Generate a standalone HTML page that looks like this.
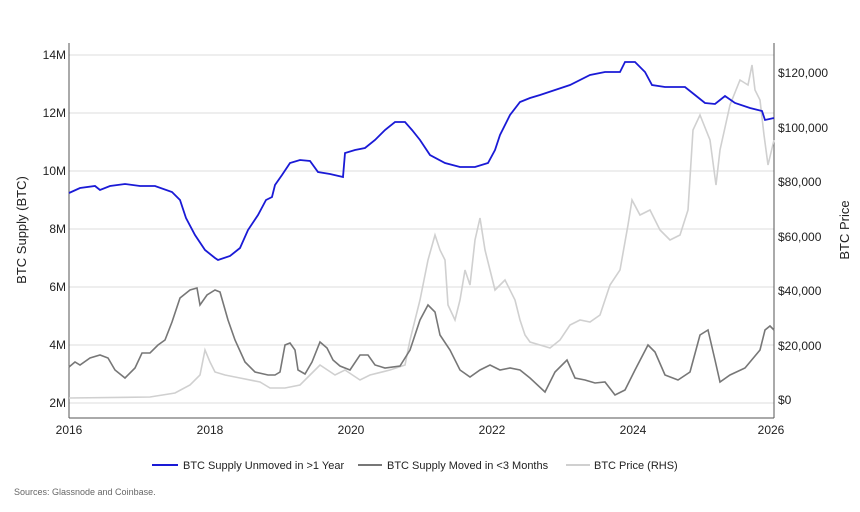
<!DOCTYPE html>
<html><head><style>
body{margin:0;background:#fff;font-family:"Liberation Sans",Arial,sans-serif;}
</style></head><body>
<svg width="860" height="507" xmlns="http://www.w3.org/2000/svg" font-family="Liberation Sans, Arial, sans-serif">
<g stroke="#e3e3e3" stroke-width="1.2">
<line x1="69" x2="774" y1="55" y2="55"/><line x1="69" x2="774" y1="113" y2="113"/>
<line x1="69" x2="774" y1="171" y2="171"/><line x1="69" x2="774" y1="229" y2="229"/>
<line x1="69" x2="774" y1="287" y2="287"/><line x1="69" x2="774" y1="345" y2="345"/>
<line x1="69" x2="774" y1="403" y2="403"/>
</g>
<g stroke="#555" stroke-width="1"><line x1="69" y1="43" x2="69" y2="418"/><line x1="774" y1="43" x2="774" y2="418"/><line x1="69" y1="418" x2="774" y2="418"/></g>
<g font-size="12" fill="#222" text-anchor="end">
<text x="66" y="59">14M</text><text x="66" y="117">12M</text><text x="66" y="175">10M</text><text x="66" y="233">8M</text><text x="66" y="291">6M</text><text x="66" y="349">4M</text><text x="66" y="407">2M</text></g>
<g font-size="12" fill="#222">
<text x="778" y="77">$120,000</text><text x="778" y="132">$100,000</text><text x="778" y="186">$80,000</text><text x="778" y="241">$60,000</text><text x="778" y="295">$40,000</text><text x="778" y="350">$20,000</text><text x="778" y="404">$0</text></g>
<g font-size="12" fill="#222" text-anchor="middle">
<text x="69" y="434">2016</text><text x="210" y="434">2018</text><text x="351" y="434">2020</text><text x="492" y="434">2022</text><text x="633" y="434">2024</text><text x="771" y="434">2026</text></g>
<text transform="translate(26,230) rotate(-90)" font-size="13" text-anchor="middle" fill="#222">BTC Supply (BTC)</text>
<text transform="translate(849,230) rotate(-90)" font-size="13" text-anchor="middle" fill="#222">BTC Price</text>
<polyline fill="none" stroke="#d0d0d0" stroke-width="1.6" points="69,398 150,397 175,393 190,385 200,375 205,350 210,362 215,372 225,375 240,378 260,382 270,388 285,388 300,385 310,375 320,365 335,375 345,370 360,380 370,375 390,370 405,365 410,340 420,300 428,260 435,235 440,250 445,260 448,305 455,320 460,300 465,270 470,285 475,240 480,218 485,250 490,270 495,290 505,280 515,300 520,320 525,335 530,342 540,345 550,348 560,340 570,325 580,320 590,322 600,315 610,285 620,270 628,225 632,200 640,215 650,210 660,230 670,240 680,235 688,210 693,130 700,115 710,140 716,185 720,150 730,105 740,80 748,85 752,65 755,90 760,100 764,135 768,165 774,140"/>
<polyline fill="none" stroke="#777" stroke-width="1.6" points="69,367 75,362 80,365 90,358 100,355 108,358 115,370 125,378 135,368 142,353 150,353 158,345 165,340 172,322 180,298 190,290 197,288 200,305 207,295 215,290 220,292 228,320 235,340 245,362 255,372 268,375 275,375 280,372 285,345 290,343 295,350 298,370 305,374 312,362 320,342 327,348 333,360 340,366 350,370 360,355 368,355 375,365 385,368 400,366 410,350 420,320 428,305 435,312 440,335 450,350 460,370 470,377 480,370 490,365 500,370 510,368 520,370 530,378 545,392 555,372 567,360 575,378 585,380 595,383 605,382 615,395 625,390 635,370 648,345 655,352 665,375 678,380 690,372 700,335 708,330 715,360 720,382 730,375 745,368 760,350 765,330 770,326 774,330"/>
<polyline fill="none" stroke="#1a1ad6" stroke-width="1.8" points="69,193 80,188 95,186 100,190 110,186 125,184 140,186 155,186 172,192 180,200 186,218 195,235 205,250 215,258 218,260 230,256 240,248 248,230 258,215 266,200 272,197 275,185 282,175 290,163 300,160 310,161 318,172 330,174 343,177 345,153 355,150 365,148 375,140 385,130 395,122 405,122 412,130 420,140 430,155 445,163 460,167 475,167 488,163 495,150 500,135 510,115 520,102 530,98 540,95 555,90 570,85 590,75 605,72 620,72 625,62 635,62 645,72 652,85 665,87 685,87 695,95 705,103 715,104 720,100 725,96 735,103 750,108 762,111 765,120 774,118"/>
<g font-size="11" fill="#222">
<line x1="152" y1="465" x2="178" y2="465" stroke="#1a1ad6" stroke-width="2"/><text x="183" y="469">BTC Supply Unmoved in &gt;1 Year</text>
<line x1="358" y1="465" x2="382" y2="465" stroke="#777" stroke-width="2"/><text x="387" y="469">BTC Supply Moved in &lt;3 Months</text>
<line x1="566" y1="465" x2="590" y2="465" stroke="#d0d0d0" stroke-width="2"/><text x="594" y="469">BTC Price (RHS)</text>
</g>
<text x="14" y="495" font-size="9" fill="#666">Sources: Glassnode and Coinbase.</text>
</svg>
</body></html>
